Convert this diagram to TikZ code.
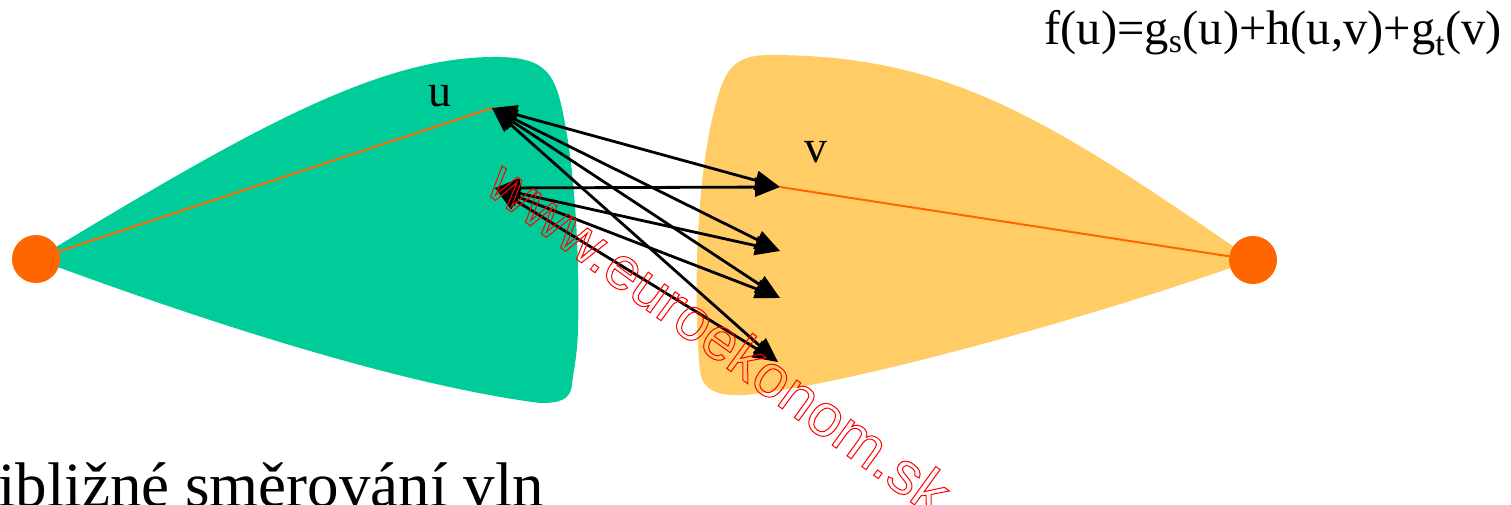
\documentclass[tikz,border=0pt]{standalone}
\usepackage{fontspec}
\setmainfont{Liberation Serif}
\newfontfamily\wmfont{Liberation Sans}
\usetikzlibrary{arrows.meta}
\definecolor{greenfill}{HTML}{00CC99}
\definecolor{yellowfill}{HTML}{FFCC66}
\definecolor{dotorange}{HTML}{FF6600}
\newcommand{\outlinetext}[1]{\special{pdf:literal direct 1 Tr 1 w}#1\special{pdf:literal direct 0 Tr}}
\begin{document}
\begin{tikzpicture}[x=1pt,y=-1pt,
  link/.style={line width=2.8pt,{Triangle[length=25pt,width=19pt]}-{Triangle[length=25pt,width=19pt]}},
  pathline/.style={dotorange,line width=2pt},
  endpoint/.style={circle,fill=dotorange,minimum size=48pt,inner sep=0pt},
  lbl/.style={font=\fontsize{46}{50}\selectfont,inner sep=0pt}]
\useasboundingbox (0,0) rectangle (1511,505);
% regions
\fill[greenfill] (36,259) .. controls (250,130) and (380,55) .. (500,57)
  .. controls (540,58) and (552,70) .. (560,100)
  .. controls (575,160) and (580,260) .. (578,330)
  .. controls (577,360) and (573,372) .. (572,385)
  .. controls (570,400) and (560,403) .. (540,403)
  .. controls (400,385) and (200,320) .. (36,259) -- cycle;
\fill[yellowfill] (1253,260) .. controls (1050,120) and (950,55) .. (770,55)
  .. controls (740,55) and (728,65) .. (720,90)
  .. controls (700,150) and (695,250) .. (697,320)
  .. controls (698,350) and (699,362) .. (700,370)
  .. controls (702,392) and (720,396) .. (745,395)
  .. controls (850,385) and (1100,315) .. (1253,260) -- cycle;
% points
\node[endpoint] (s) at (36,259) {};
\node[endpoint] (t) at (1253,260) {};
\coordinate (u) at (492,108);
\coordinate (w) at (495,188);
\coordinate (v) at (780,187);
\coordinate (a) at (780,251);
\coordinate (b) at (780,298);
\coordinate (c) at (778,362);
\draw[pathline] (s) -- (u);
\draw[pathline] (v) -- (t);
% arrows
\foreach \p in {u,w}{
  \foreach \q in {v,a,b,c}{
    \draw[link] (\p) -- (\q);
  }
}
% labels
\node[lbl,anchor=base] (ul) at (440,107) {u};
\node[lbl,anchor=base] (vl) at (816,163) {v};
\node[anchor=base east,inner sep=0pt,font=\fontsize{48.5}{52}\selectfont] (f) at (1502,45) {f(u)=g\textsubscript{s}(u)+h(u,v)+g\textsubscript{t}(v)};
\node[font=\fontsize{63}{70}\selectfont,inner sep=0pt,anchor=base west] (title) at (-2,506) {ibližné směrování vln};
% watermark
\node[rotate=-36,text=red,font=\wmfont\fontsize{60}{62}\selectfont,inner sep=0pt] (wm) at (720,337)
  {\outlinetext{www.euroekonom.sk}};
\end{tikzpicture}
\end{document}
